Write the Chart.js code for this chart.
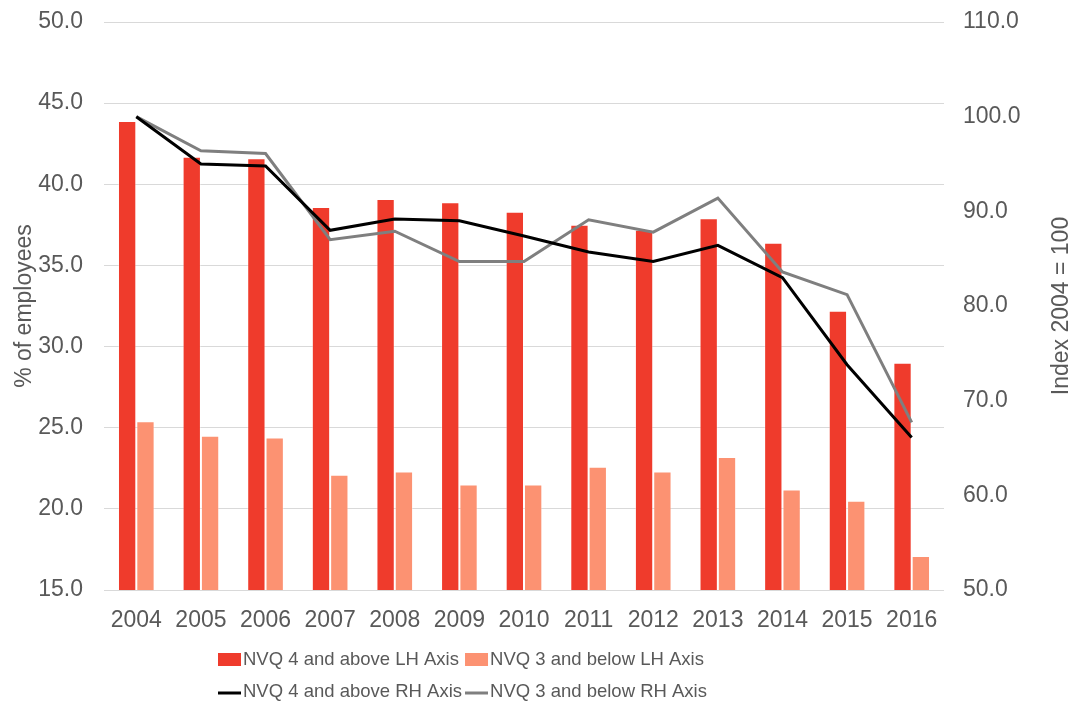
<!DOCTYPE html>
<html>
<head>
<meta charset="utf-8">
<script src="https://cdn.jsdelivr.net/npm/chart.js@4.4.1/dist/chart.umd.min.js"></script>
<style>
  html, body { margin: 0; padding: 0; background: #fff; }
  #wrap { width: 1074px; height: 709px; }
</style>
</head>
<body>
<div id="wrap"><canvas id="chart" width="1074" height="709"></canvas></div>
<script>
// data
const years = ["2004", "2005", "2006", "2007", "2008", "2009", "2010", "2011", "2012", "2013", "2014", "2015", "2016"];
const nvq4Pct = [43.9, 41.7, 41.6, 38.6, 39.1, 38.9, 38.3, 37.5, 37.2, 37.9, 36.4, 32.2, 29.0];
const nvq3Pct = [25.4, 24.5, 24.4, 22.1, 22.3, 21.5, 21.5, 22.6, 22.3, 23.2, 21.2, 20.5, 17.1];
const nvq4Idx = [100, 95.0, 94.8, 88.0, 89.2, 89.0, 87.4, 85.7, 84.7, 86.4, 83.0, 73.8, 66.1];
const nvq3Idx = [100, 96.4, 96.1, 87.0, 87.9, 84.7, 84.7, 89.1, 87.8, 91.4, 83.6, 81.2, 67.7];
const leftTicks = [15, 50, 5];
const rightTicks = [50, 110, 10];

const FONT = '"Liberation Sans", Arial, sans-serif';
const TEXT = "#595959";

// Excel style legend: two rows, left aligned
const legendPlugin = {
  id: "twoRowLegend",
  afterDraw(chart) {
    const ctx = chart.ctx;
    const ds = chart.data.datasets;
    ctx.save();
    ctx.font = "18.5px " + FONT;
    ctx.textBaseline = "middle";
    const x0 = 218;
    const rowY = [660, 692];
    const col1 = Math.max(ctx.measureText(ds[0].label).width, ctx.measureText(ds[2].label).width);
    const x1 = x0 + 25 + col1 + 3;
    [[0, 1], [2, 3]].forEach((pair, r) => {
      pair.forEach((i, c) => {
        const x = c === 0 ? x0 : x1;
        const y = rowY[r];
        if (ds[i].type === "line") {
          ctx.strokeStyle = ds[i].borderColor;
          ctx.lineWidth = 3;
          ctx.beginPath();
          ctx.moveTo(x, y + 1);
          ctx.lineTo(x + 23, y + 1);
          ctx.stroke();
        } else {
          ctx.fillStyle = ds[i].backgroundColor;
          ctx.fillRect(x, y - 7, 23, 13);
        }
        ctx.fillStyle = TEXT;
        ctx.fillText(ds[i].label, x + 25, y);
      });
    });

    // right axis title reads bottom to top
    const area = chart.chartArea;
    ctx.translate(1062, (area.top + area.bottom) / 2);
    ctx.rotate(-Math.PI / 2);
    ctx.font = "23px " + FONT;
    ctx.textAlign = "center";
    ctx.fillText("Index 2004 = 100", 0, 0);
    ctx.restore();
  }
};

function noPad(scale) {
  scale.paddingTop = 0;
  scale.paddingBottom = 0;
  scale.paddingLeft = 0;
  scale.paddingRight = 0;
}

new Chart(document.getElementById("chart"), {
  data: {
    labels: years,
    datasets: [
      {
        type: "bar", label: "NVQ 4 and above LH Axis", data: nvq4Pct, yAxisID: "yL",
        backgroundColor: "#EF3B2C", borderColor: "rgba(255,255,255,0.35)", borderWidth: 1,
        categoryPercentage: 0.567, barPercentage: 1, order: 2
      },
      {
        type: "bar", label: "NVQ 3 and below LH Axis", data: nvq3Pct, yAxisID: "yL",
        backgroundColor: "#FC9272", borderColor: "rgba(255,255,255,0.35)", borderWidth: 1,
        categoryPercentage: 0.567, barPercentage: 1, order: 2
      },
      {
        type: "line", label: "NVQ 4 and above RH Axis", data: nvq4Idx, yAxisID: "yR",
        borderColor: "#000000", backgroundColor: "#000000", borderWidth: 3,
        pointRadius: 0, tension: 0, order: 0
      },
      {
        type: "line", label: "NVQ 3 and below RH Axis", data: nvq3Idx, yAxisID: "yR",
        borderColor: "#7F7F7F", backgroundColor: "#7F7F7F", borderWidth: 3,
        pointRadius: 0, tension: 0, order: 1
      }
    ]
  },
  options: {
    responsive: false,
    animation: false,
    layout: { padding: { top: 22, bottom: 74, left: 0, right: 0 } },
    plugins: { legend: { display: false }, tooltip: { enabled: false } },
    scales: {
      x: {
        grid: { display: false },
        border: { display: false },
        ticks: { color: TEXT, font: { family: FONT, size: 23 }, padding: 9, maxRotation: 0 },
        afterFit(scale) { scale.height = 45; noPad(scale); }
      },
      yL: {
        position: "left",
        min: leftTicks[0], max: leftTicks[1],
        grid: { color: "#D9D9D9", lineWidth: 1, drawTicks: false },
        border: { display: false },
        ticks: {
          stepSize: leftTicks[2], color: TEXT, padding: 21,
          font: { family: FONT, size: 23 },
          callback: v => v.toFixed(1)
        },
        title: {
          display: true, text: "% of employees", color: TEXT,
          font: { family: FONT, size: 23 }, padding: { top: 11, bottom: 0 }
        },
        afterFit(scale) { scale.width = 104; noPad(scale); }
      },
      yR: {
        position: "right",
        min: rightTicks[0], max: rightTicks[1],
        grid: { display: false, drawTicks: false },
        border: { display: false },
        ticks: {
          stepSize: rightTicks[2], color: TEXT, padding: 19,
          font: { family: FONT, size: 23 },
          callback: v => v.toFixed(1)
        },
        afterFit(scale) { scale.width = 130; noPad(scale); }
      }
    }
  },
  plugins: [legendPlugin]
});
</script>
</body>
</html>
